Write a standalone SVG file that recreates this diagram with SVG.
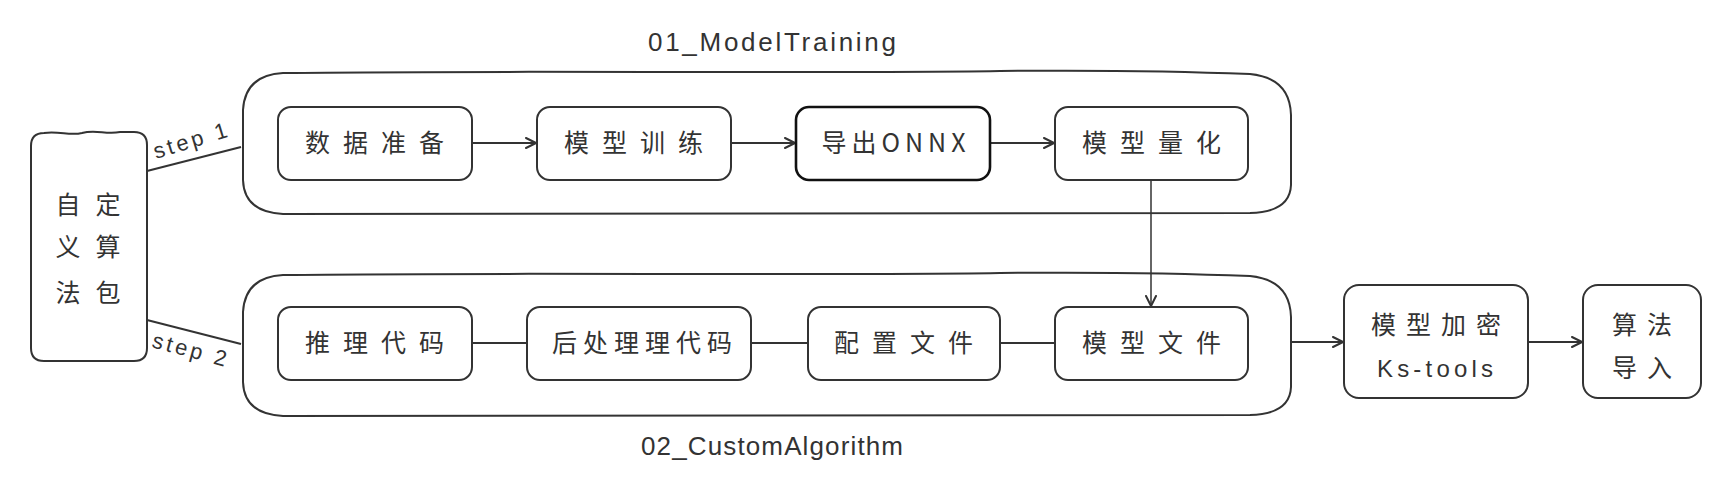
<svg xmlns="http://www.w3.org/2000/svg" width="1733" height="493" viewBox="0 0 1733 493">
<defs>
<style>
.box{fill:#ffffff;stroke:#333333;stroke-width:2;stroke-linejoin:round}
.cont{fill:none;stroke:#333333;stroke-width:2}
.bold{stroke:#111111;stroke-width:2.6}
.cjk{font-family:"Noto Sans CJK SC","Noto Sans",sans-serif;font-size:25px;fill:#333333;font-weight:400}
.lat{font-family:"Liberation Sans","DejaVu Sans",sans-serif;fill:#333333}
.edge{fill:none;stroke:#333333;stroke-width:2}
.thin{stroke-width:1.5}
</style>
<marker id="arr" viewBox="0 0 12 12" refX="11" refY="6" markerWidth="12" markerHeight="12" markerUnits="userSpaceOnUse" orient="auto">
<path d="M1,1 L11,6 L1,11" fill="none" stroke="#333333" stroke-width="2" stroke-linecap="round" stroke-linejoin="round"/>
</marker>
</defs>
<rect width="1733" height="493" fill="#ffffff"/>

<g id="connectors">
<line class="edge" x1="147" y1="171" x2="241" y2="147"/>
<line class="edge" x1="147" y1="320" x2="241" y2="344"/>
<line class="edge" x1="472" y1="143" x2="536" y2="143" marker-end="url(#arr)"/>
<line class="edge" x1="731" y1="143" x2="795" y2="143" marker-end="url(#arr)"/>
<line class="edge" x1="990" y1="143" x2="1054" y2="143" marker-end="url(#arr)"/>
<line class="edge" x1="472" y1="343" x2="527" y2="343"/>
<line class="edge" x1="751" y1="343" x2="808" y2="343"/>
<line class="edge" x1="1000" y1="343" x2="1055" y2="343"/>
<line class="edge thin" x1="1151" y1="180" x2="1151" y2="306" marker-end="url(#arr)"/>
<line class="edge" x1="1291" y1="342" x2="1343" y2="342" marker-end="url(#arr)"/>
<line class="edge" x1="1528" y1="342" x2="1582" y2="342" marker-end="url(#arr)"/>
<text class="lat" font-size="22" transform="translate(156,159) rotate(-17)" textLength="76">step 1</text>
<text class="lat" font-size="22" transform="translate(151,347) rotate(15)" textLength="76">step 2</text>
</g>

<g id="left-node">
<path class="box" d="M44,133 C60,131 70,136 82,133 C96,129 106,135 120,132 L134,132 Q147,132 147,145 L147,348 Q147,361 134,361 L44,361 Q31,361 31,348 L31,146 Q31,133 44,133 Z"/>
<text class="cjk" x="68" y="214" text-anchor="middle">自</text>
<text class="cjk" x="108" y="214" text-anchor="middle">定</text>
<text class="cjk" x="68" y="256" text-anchor="middle">义</text>
<text class="cjk" x="108" y="256" text-anchor="middle">算</text>
<text class="cjk" x="68" y="302" text-anchor="middle">法</text>
<text class="cjk" x="108" y="302" text-anchor="middle">包</text>
</g>

<g id="container-training">
<path class="cont" d="M283,73 C500,70 800,74 1000,71 C1100,70 1200,72 1250,74 Q1290,78 1291,115 L1291,185 Q1290,212 1250,213 C1000,215 700,213 283,214 Q244,212 243,180 L243,110 Q245,75 283,73 Z"/>
<text class="lat" font-size="26" x="772" y="51" text-anchor="middle" textLength="248">01_ModelTraining</text>
</g>

<g id="container-custom">
<path class="cont" d="M283,275 C500,272 800,276 1000,273 C1100,272 1200,274 1250,276 Q1290,280 1291,317 L1291,387 Q1290,414 1250,415 C1000,417 700,415 283,416 Q244,414 243,382 L243,312 Q245,277 283,275 Z"/>
<text class="lat" font-size="26" x="772" y="455" text-anchor="middle" textLength="262">02_CustomAlgorithm</text>
</g>

<g id="n-data">
<rect class="box" x="278" y="107" width="194" height="73" rx="13"/>
<text class="cjk" x="381" y="152" text-anchor="middle" letter-spacing="13">数据准备</text>
</g>
<g id="n-train">
<rect class="box" x="537" y="107" width="194" height="73" rx="13"/>
<text class="cjk" x="640" y="152" text-anchor="middle" letter-spacing="13">模型训练</text>
</g>
<g id="n-onnx">
<rect class="box bold" x="796" y="107" width="194" height="73" rx="13"/>
<text class="cjk" x="896" y="152" text-anchor="middle" letter-spacing="5">导出ONNX</text>
</g>
<g id="n-quant">
<rect class="box" x="1055" y="107" width="193" height="73" rx="13"/>
<text class="cjk" x="1158" y="152" text-anchor="middle" letter-spacing="13">模型量化</text>
</g>

<g id="n-infer">
<rect class="box" x="278" y="307" width="194" height="73" rx="13"/>
<text class="cjk" x="381" y="352" text-anchor="middle" letter-spacing="13">推理代码</text>
</g>
<g id="n-post">
<rect class="box" x="527" y="307" width="224" height="73" rx="13"/>
<text class="cjk" x="645" y="352" text-anchor="middle" letter-spacing="6">后处理理代码</text>
</g>
<g id="n-config">
<rect class="box" x="808" y="307" width="192" height="73" rx="13"/>
<text class="cjk" x="910" y="352" text-anchor="middle" letter-spacing="13">配置文件</text>
</g>
<g id="n-modelfile">
<rect class="box" x="1055" y="307" width="193" height="73" rx="13"/>
<text class="cjk" x="1158" y="352" text-anchor="middle" letter-spacing="13">模型文件</text>
</g>

<g id="n-encrypt">
<rect class="box" x="1344" y="285" width="184" height="113" rx="15"/>
<text class="cjk" x="1441" y="334" text-anchor="middle" letter-spacing="10">模型加密</text>
<text class="lat" font-size="24" x="1435" y="377" text-anchor="middle" textLength="116">Ks-tools</text>
</g>
<g id="n-import">
<rect class="box" x="1583" y="285" width="118" height="113" rx="15"/>
<text class="cjk" x="1647" y="334" text-anchor="middle" letter-spacing="10">算法</text>
<text class="cjk" x="1647" y="377" text-anchor="middle" letter-spacing="10">导入</text>
</g>
</svg>
